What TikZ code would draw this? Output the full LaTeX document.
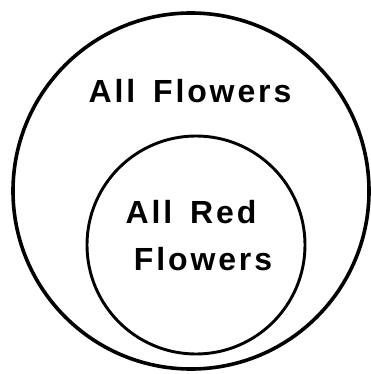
\documentclass[tikz,border=0pt]{standalone}
\usepackage{fontspec}
\newfontfamily\lblfont{Liberation Sans}[LetterSpace=9]
\begin{document}
\begin{tikzpicture}[x=1pt,y=-1pt,
  ring/.style={circle,draw=black,inner sep=0pt,outer sep=0pt},
  lbl/.style={font=\lblfont\bfseries\fontsize{32}{36}\selectfont,inner sep=0pt,anchor=base}]
\useasboundingbox (0,0) rectangle (370,374);
\node[ring,line width=3.6pt,minimum size=356pt] (outer) at (191,191) {};
\node[ring,line width=2.9pt,minimum size=218pt] (inner) at (196,245) {};
\node[lbl] (allf) at (190,103) {All\hspace{6pt} Flowers};
\node[lbl] (allr) at (191,223) {All\hspace{6pt} Red};
\node[lbl] (flw) at (203,270) {Flowers};
\end{tikzpicture}
\end{document}
